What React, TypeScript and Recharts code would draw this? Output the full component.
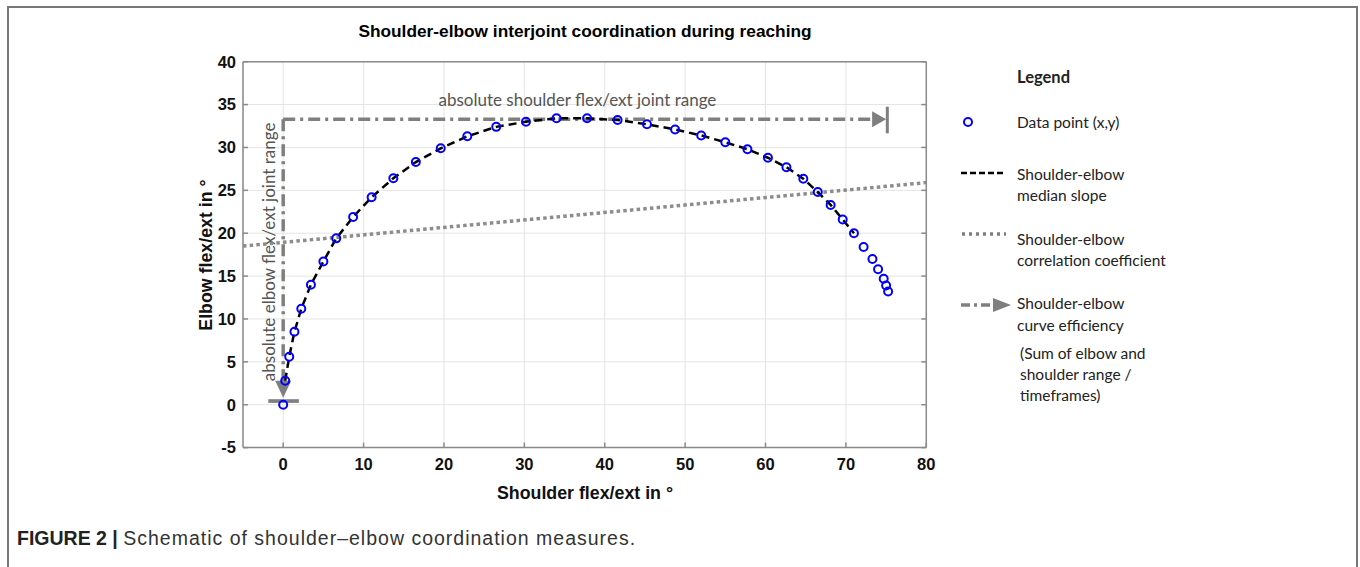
import React from "react";
import {
  CartesianGrid,
  ComposedChart,
  ReferenceLine,
  Scatter,
  XAxis,
  YAxis,
} from "recharts";

// shoulder (x) and elbow (y) angles of the reaching samples, in degrees
const shoulderFlex = [
  0, 0.25, 0.75, 1.4, 2.25, 3.45, 5, 6.6, 8.7, 11, 13.7, 16.5, 19.6, 22.9,
  26.5, 30.2, 34, 37.8, 41.6, 45.25, 48.75, 52, 55, 57.75, 60.3, 62.6, 64.7,
  66.5, 68.1, 69.6, 71, 72.2, 73.3, 74.0, 74.7, 75.0, 75.25,
];
const elbowFlex = [
  0, 2.8, 5.6, 8.5, 11.2, 14, 16.7, 19.4, 21.9, 24.2, 26.4, 28.3, 29.9, 31.3,
  32.4, 33.0, 33.4, 33.4, 33.2, 32.7, 32.1, 31.4, 30.6, 29.8, 28.8, 27.7,
  26.35, 24.8, 23.3, 21.6, 20.0, 18.4, 17.0, 15.8, 14.7, 13.9, 13.2,
];

// correlation line end points
const corrShoulder = [-5, 80];
const corrElbow = [18.5, 25.9];

// joint range markers
const rangeTop = 33.28;
const shoulderRangeEnd = 73.2;
const shoulderArrowTip = 75.0;
const shoulderBarX = 75.15;
const shoulderBarY = [31.65, 34.75];
const elbowRangeEnd = 2.6;
const elbowArrowTip = 0.82;
const elbowBarY = 0.43;
const elbowBarX = [-1.85, 1.95];

const xTicks = [0, 10, 20, 30, 40, 50, 60, 70, 80];
const yTicks = [-5, 0, 5, 10, 15, 20, 25, 30, 35, 40];

const points = shoulderFlex.map((x, i) => ({ x, y: elbowFlex[i] }));
const medianSlope = points.slice(1, 31);
const corrLine = corrShoulder.map((x, i) => ({ x, y: corrElbow[i] }));

const GRAY = "#7f7f7f";
const ARIAL = "'Liberation Sans', Arial, sans-serif";
const CALIBRI = "Lato, 'Open Sans', sans-serif";

const tickStyle = { fill: "#111", fontSize: 16.5, fontWeight: 700, fontFamily: ARIAL };

const Ring = (p: any) => (
  <circle cx={p.cx} cy={p.cy} r={4} fill="none" stroke="#0000ff" strokeWidth={2} />
);
const Nothing = () => <g />;
const ArrowRight = (p: any) => (
  <polygon
    points={`${p.cx},${p.cy} ${p.cx - 14},${p.cy - 8} ${p.cx - 14},${p.cy + 8}`}
    fill={GRAY}
  />
);
const ArrowDown = (p: any) => (
  <polygon
    points={`${p.cx},${p.cy} ${p.cx - 8},${p.cy - 17} ${p.cx + 8},${p.cy - 17}`}
    fill={GRAY}
  />
);

const ElbowRangeLabel = (props: any) => {
  const vb = props.viewBox || {};
  const x = vb.x - 15;
  const y = vb.y + vb.height / 2 + 1;
  return (
    <text
      x={x}
      y={y}
      transform={`rotate(-90, ${x}, ${y})`}
      textAnchor="middle"
      dominantBaseline="central"
      fill="#555"
      fontSize={17}
      fontFamily={CALIBRI}
    >
      absolute elbow flex/ext joint range
    </text>
  );
};

function LegendPanel() {
  const t = { fill: "#222", fontSize: 15.5, fontFamily: CALIBRI, dominantBaseline: "central" as const };
  return (
    <svg
      width={300}
      height={360}
      style={{ position: "absolute", left: 950, top: 60, overflow: "visible" }}
    >
      <text x={67} y={17} {...t} fontWeight={700} fontSize={16.5}>
        Legend
      </text>
      <circle cx={18} cy={62} r={4} fill="none" stroke="#0000ff" strokeWidth={2} />
      <text x={67} y={62} {...t}>Data point (x,y)</text>

      <line x1={11} x2={56} y1={113} y2={113} stroke="#000" strokeWidth={2.5} strokeDasharray="6 3" />
      <text x={67} y={114} {...t}>Shoulder-elbow</text>
      <text x={67} y={135} {...t}>median slope</text>

      <line x1={12} x2={56} y1={174} y2={174} stroke={GRAY} strokeWidth={3.5} strokeDasharray="3 4" />
      <text x={67} y={179} {...t}>Shoulder-elbow</text>
      <text x={67} y={200} {...t}>correlation coefficient</text>

      <line x1={11} x2={44} y1={245} y2={245} stroke={GRAY} strokeWidth={3.5} strokeDasharray="9 4 3 4" />
      <polygon points="61,245 43,238 43,252" fill={GRAY} />
      <text x={67} y={243} {...t}>Shoulder-elbow</text>
      <text x={67} y={265} {...t}>curve efficiency</text>
      <text x={70} y={293} {...t}>(Sum of elbow and</text>
      <text x={70} y={314} {...t}>shoulder range /</text>
      <text x={70} y={335} {...t}>timeframes)</text>
    </svg>
  );
}

export default function App() {
  return (
    <div
      style={{
        position: "absolute",
        left: 0,
        top: 0,
        width: 1360,
        height: 567,
        background: "#fff",
        overflow: "hidden",
      }}
    >
      <div
        style={{
          position: "absolute",
          left: 7,
          top: 6,
          width: 1347,
          height: 620,
          borderTop: "2px solid #777",
          borderLeft: "2px solid #777",
          borderRight: "2px solid #777",
        }}
      />

      <div style={{ position: "absolute", left: 0, top: 0 }}>
        <ComposedChart
          width={1360}
          height={567}
          margin={{ top: 51.7, right: 423.7, left: 183, bottom: 89.4 }}
        >
          <CartesianGrid stroke="#e4e4e4" strokeWidth={1} />
          <XAxis
            dataKey="x"
            type="number"
            domain={[-5, 80]}
            ticks={xTicks}
            interval={0}
            height={30}
            tickSize={-5}
            tickMargin={16}
            axisLine={{ stroke: "#8a8a8a", strokeWidth: 1.5 }}
            tickLine={{ stroke: "#8a8a8a", strokeWidth: 1.5 }}
            tick={tickStyle}
            allowDataOverflow
          />
          <XAxis
            xAxisId="t"
            orientation="top"
            type="number"
            domain={[-5, 80]}
            ticks={xTicks}
            interval={0}
            height={10}
            tickSize={-5}
            axisLine={{ stroke: "#8a8a8a", strokeWidth: 1.5 }}
            tickLine={{ stroke: "#8a8a8a", strokeWidth: 1.5 }}
            tick={Nothing}
            allowDataOverflow
          />
          <YAxis
            dataKey="y"
            type="number"
            domain={[-5, 40]}
            ticks={yTicks}
            interval={0}
            width={60}
            tickSize={-5}
            tickMargin={12}
            axisLine={{ stroke: "#8a8a8a", strokeWidth: 1.5 }}
            tickLine={{ stroke: "#8a8a8a", strokeWidth: 1.5 }}
            tick={tickStyle}
            allowDataOverflow
          />
          <YAxis
            yAxisId="r"
            orientation="right"
            type="number"
            domain={[-5, 40]}
            ticks={yTicks}
            interval={0}
            width={10}
            tickSize={-5}
            axisLine={{ stroke: "#8a8a8a", strokeWidth: 1.5 }}
            tickLine={{ stroke: "#8a8a8a", strokeWidth: 1.5 }}
            tick={Nothing}
            allowDataOverflow
          />

          <Scatter
            data={corrLine}
            line={{ stroke: "#8c8c8c", strokeWidth: 3.5, strokeDasharray: "3.5 3.2" }}
            shape={Nothing}
            isAnimationActive={false}
          />

          <ReferenceLine
            segment={[
              { x: 0, y: rangeTop },
              { x: shoulderRangeEnd, y: rangeTop },
            ]}
            stroke={GRAY}
            strokeWidth={3.5}
            strokeDasharray="12 5 3 5"
            label={{
              value: "absolute shoulder flex/ext joint range",
              position: "top",
              offset: 13,
              fill: "#555",
              fontSize: 17,
              fontFamily: CALIBRI,
            }}
          />
          <ReferenceLine
            segment={[
              { x: 0, y: rangeTop },
              { x: 0, y: elbowRangeEnd },
            ]}
            stroke={GRAY}
            strokeWidth={3.5}
            strokeDasharray="12 5 3 5"
            label={ElbowRangeLabel}
          />
          <ReferenceLine
            segment={[
              { x: shoulderBarX, y: shoulderBarY[0] },
              { x: shoulderBarX, y: shoulderBarY[1] },
            ]}
            stroke={GRAY}
            strokeWidth={3}
          />
          <ReferenceLine
            segment={[
              { x: elbowBarX[0], y: elbowBarY },
              { x: elbowBarX[1], y: elbowBarY },
            ]}
            stroke={GRAY}
            strokeWidth={3.7}
          />
          <Scatter
            data={[{ x: shoulderArrowTip, y: rangeTop }]}
            shape={ArrowRight}
            isAnimationActive={false}
          />
          <Scatter
            data={[{ x: 0, y: elbowArrowTip }]}
            shape={ArrowDown}
            isAnimationActive={false}
          />

          <Scatter
            data={medianSlope}
            line={{ stroke: "#000", strokeWidth: 2.5, strokeDasharray: "8 5" }}
            shape={Nothing}
            isAnimationActive={false}
          />
          <Scatter data={points} shape={Ring} isAnimationActive={false} />
        </ComposedChart>
      </div>

      <svg
        width={1360}
        height={567}
        style={{ position: "absolute", left: 0, top: 0, pointerEvents: "none" }}
      >
        <text
          x={585}
          y={31}
          textAnchor="middle"
          dominantBaseline="central"
          fontFamily={ARIAL}
          fontWeight={700}
          fontSize={17.3}
          fill="#000"
        >
          Shoulder-elbow interjoint coordination during reaching
        </text>
        <text
          x={585}
          y={493}
          textAnchor="middle"
          dominantBaseline="central"
          fontFamily={ARIAL}
          fontWeight={700}
          fontSize={17.8}
          fill="#111"
        >
          Shoulder flex/ext in °
        </text>
        <text
          x={206}
          y={255}
          transform="rotate(-90, 206, 255)"
          textAnchor="middle"
          dominantBaseline="central"
          fontFamily={ARIAL}
          fontWeight={700}
          fontSize={17.8}
          fill="#111"
        >
          Elbow flex/ext in °
        </text>
        <text x={17} y={538} dominantBaseline="central" fontFamily={ARIAL} fontSize={19.5} fill="#333">
          <tspan fontWeight={700} fill="#222">FIGURE 2 | </tspan>
          <tspan letterSpacing={1}>Schematic of shoulder–elbow coordination measures.</tspan>
        </text>
      </svg>

      <LegendPanel />
    </div>
  );
}
